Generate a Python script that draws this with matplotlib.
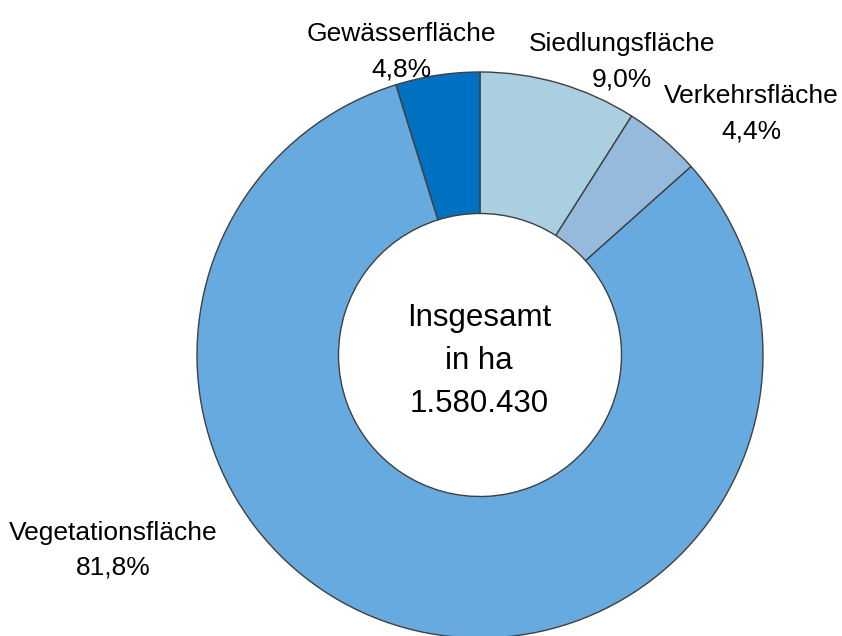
import matplotlib
matplotlib.use("Agg")
import matplotlib.pyplot as plt
from matplotlib import font_manager

categories = ["Siedlungsfläche", "Verkehrsfläche", "Vegetationsfläche", "Gewässerfläche"]
shares = [9.0, 4.4, 81.8, 4.8]
total_ha = 1580430
colors = ["#a9cfe0", "#95badb", "#66aae0", "#0070c0"]

names = {f.name for f in font_manager.fontManager.ttflist}
fam = ["Liberation Sans Narrow", "Liberation Sans", "DejaVu Sans"]
fam = [f for f in fam if f in names] or ["DejaVu Sans"]
plt.rcParams["font.family"] = fam

W, H = 842, 636
fig = plt.figure(figsize=(W / 100, H / 100), dpi=100)
ax = fig.add_axes([0, 0, 1, 1])

cx, cy, r = 480, H - 355, 283
ax.pie(shares, colors=colors, startangle=90, counterclock=False,
       center=(cx, cy), radius=r, frame=True,
       wedgeprops=dict(width=r * 0.5, edgecolor="#404040", linewidth=1.0))
ax.set_xlim(0, W)
ax.set_ylim(0, H)
ax.set_aspect("equal")
ax.axis("off")

def pct(v):
    return f"{v:.1f}".replace(".", ",") + "%"

# (x centre, baseline of name line, baseline of percentage line) in pixels from top
label_pos = {
    "Siedlungsfläche": (622, 51, 86),
    "Verkehrsfläche": (751, 103, 138),
    "Vegetationsfläche": (113, 540, 575),
    "Gewässerfläche": (401, 41, 77),
}
for cat, v in zip(categories, shares):
    x, y1, y2 = label_pos[cat]
    ax.text(x, H - y1, cat, ha="center", va="baseline", fontsize=19, color="black")
    ax.text(x, H - y2, pct(v), ha="center", va="baseline", fontsize=19, color="black")

total_str = f"{total_ha:,}".replace(",", ".")
for txt, yb in zip(["Insgesamt", "in ha", total_str], [326, 369, 412]):
    ax.text(479, H - yb, txt, ha="center", va="baseline", fontsize=22.5, color="black")

fig.savefig("out.png", dpi=100)
